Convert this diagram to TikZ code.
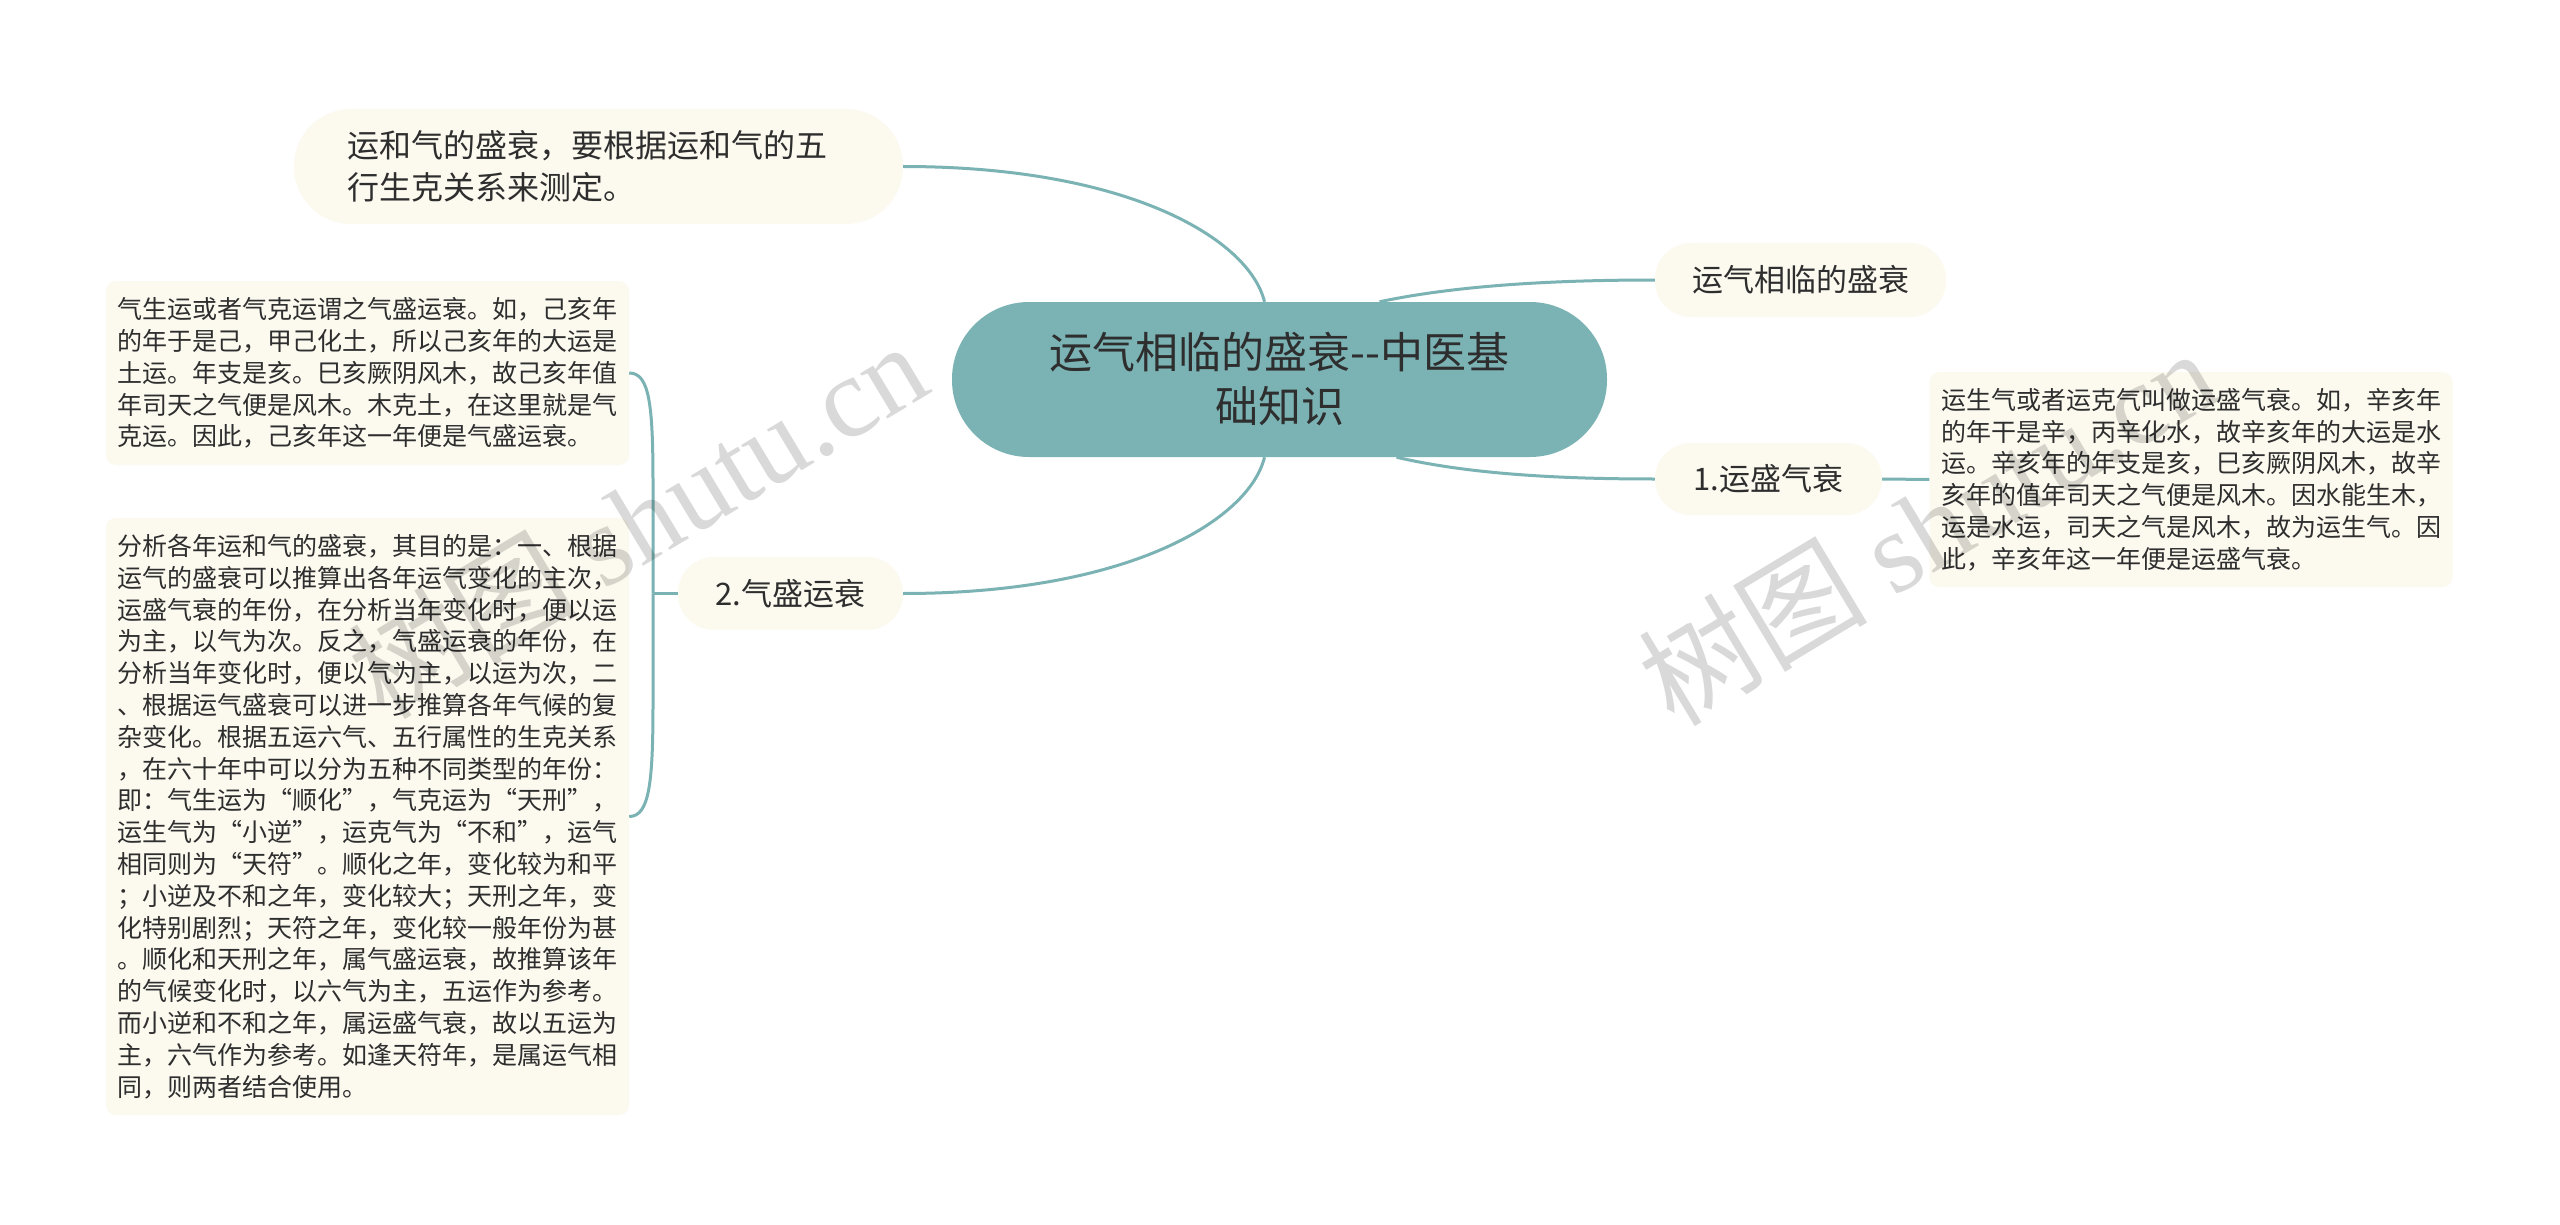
\documentclass[tikz,border=0pt]{standalone}
\usepackage{fontspec}
\setmainfont{Noto Sans CJK SC}
\newfontfamily\wmfont{Liberation Serif}
\usetikzlibrary{calc}
\definecolor{teal1}{HTML}{7BB3B5}
\definecolor{cream}{HTML}{FCF9EF}
\definecolor{txt}{HTML}{2E2E2E}
\begin{document}
\begin{tikzpicture}[x=1pt,y=-1pt,
  edge/.style={draw=teal1, line width=3pt},
  topic/.style={fill=cream, rounded corners=36pt, text=txt, font=\fontsize{31}{40}\selectfont, inner sep=0pt},
  textbox/.style={fill=cream, rounded corners=10pt, text=txt, font=\fontsize{25}{31.8}\selectfont, align=left, inner sep=0pt, minimum width=523pt, text width=500pt},
  wm/.style={rotate=31, text=black, opacity=0.15, font=\fontsize{115}{115}\selectfont, inner sep=0pt}
]
\useasboundingbox[fill=white] (0,0) rectangle (2560,1225);

% central
\node[fill=teal1, rounded corners=77pt, minimum width=655pt, minimum height=155pt, inner sep=0pt, text=txt, font=\fontsize{43}{54}\selectfont, align=center] (c) at (1279.5,379.5) {运气相临的盛衰-{}-中医基\\础知识};

% topics
\node[topic, minimum width=609pt, minimum height=115pt, rounded corners=57pt, font=\fontsize{32}{42}\selectfont, align=left, text width=502pt] (tl) at (598.5,166.5) {运和气的盛衰，要根据运和气的五\\行生克关系来测定。};
\node[topic, minimum width=291pt, minimum height=74pt] (n1) at (1800.5,280) {运气相临的盛衰};
\node[topic, minimum width=227pt, minimum height=72pt] (n2) at (1768.5,479) {1.运盛气衰};
\node[topic, minimum width=225pt, minimum height=73pt] (n3) at (790.5,593.5) {2.气盛运衰};

% text boxes
\node[textbox, minimum height=215pt] (rb) at (2191,479.5) {运生气或者运克气叫做运盛气衰。如，辛亥年\\的年干是辛，丙辛化水，故辛亥年的大运是水\\运。辛亥年的年支是亥，巳亥厥阴风木，故辛\\亥年的值年司天之气便是风木。因水能生木，\\运是水运，司天之气是风木，故为运生气。因\\此，辛亥年这一年便是运盛气衰。};
\node[textbox, minimum height=184pt] (lb1) at (367.5,373) {气生运或者气克运谓之气盛运衰。如，己亥年\\的年于是己，甲己化土，所以己亥年的大运是\\土运。年支是亥。巳亥厥阴风木，故己亥年值\\年司天之气便是风木。木克土，在这里就是气\\克运。因此，己亥年这一年便是气盛运衰。};
\node[textbox, minimum height=597pt] (lb2) at (367.5,816.5) {分析各年运和气的盛衰，其目的是：一、根据\\运气的盛衰可以推算出各年运气变化的主次，\\运盛气衰的年份，在分析当年变化时，便以运\\为主，以气为次。反之，气盛运衰的年份，在\\分析当年变化时，便以气为主，以运为次，二\\、根据运气盛衰可以进一步推算各年气候的复\\杂变化。根据五运六气、五行属性的生克关系\\，在六十年中可以分为五种不同类型的年份：\\即：气生运为“顺化”，气克运为“天刑”，\\运生气为“小逆”，运克气为“不和”，运气\\相同则为“天符”。顺化之年，变化较为和平\\；小逆及不和之年，变化较大；天刑之年，变\\化特别剧烈；天符之年，变化较一般年份为甚\\。顺化和天刑之年，属气盛运衰，故推算该年\\的气候变化时，以六气为主，五运作为参考。\\而小逆和不和之年，属运盛气衰，故以五运为\\主，六气作为参考。如逢天符年，是属运气相\\同，则两者结合使用。};

% connectors
\draw[edge] (tl.east) .. controls +(227,0) and +(-15,-62) .. ([xshift=-15pt]c.north);
\draw[edge] ([xshift=100pt]c.north) .. controls +(80,-17) and +(-95,0) .. (n1.west);
\draw[edge] ([xshift=117pt]c.south) .. controls +(73,17) and +(-95,0) .. (n2.west);
\draw[edge] ([xshift=-15pt]c.south) .. controls +(-15,62) and +(227,0) .. (n3.east);
\draw[edge] (n2.east) -- (rb.west);

\coordinate (br) at (653,593.5);
\draw[edge] (n3.west) -- (br);
\draw[edge] (br) -- ++(0,-110) .. controls +(0,-80) and +(20,0) .. (lb1.east);
\draw[edge] (br) -- ++(0,110) .. controls +(0,80) and +(20,0) .. (lb2.east);

% watermarks
\node[wm] (wm1) at (637,519) {树图 {\wmfont shutu.cn}};
\node[wm] (wm2) at (1927,526) {树图 {\wmfont shutu.cn}};
\end{tikzpicture}
\end{document}
